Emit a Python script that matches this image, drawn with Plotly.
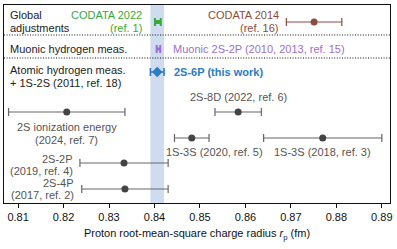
import plotly.graph_objects as go

# ---- data ----
labels = ["CODATA 2022", "CODATA 2014", "Muonic 2S-2P", "2S-6P (this work)",
          "2S ionization energy", "2S-8D", "1S-3S 2020", "1S-3S 2018", "2S-2P", "2S-4P"]
radius = [0.84075, 0.8751, 0.84087, 0.8406, 0.8207, 0.8584, 0.8482, 0.877, 0.8333, 0.8335]
uncert = [0.00064, 0.0061, 0.00039, 0.0015, 0.0128, 0.0051, 0.0038, 0.013, 0.0097, 0.0095]
row = [17, 17, 44, 67, 107, 107, 133, 133, 158, 184]
tick_vals = [0.81, 0.82, 0.83, 0.84, 0.85, 0.86, 0.87, 0.88, 0.89]

FONT = "Liberation Sans, Arial, Helvetica, sans-serif"
GRAY = "#555555"
GREEN = "#3aa83a"
BROWN = "#8c4b40"
PURPLE = "#9c6fd0"
BLUE = "#2a7cc4"

fig = go.Figure()

def add_point(i, color, symbol="circle", size=7, cap=3, thick=1.2, ecolor=None):
    fig.add_trace(go.Scatter(
        x=[radius[i]], y=[row[i]], mode="markers",
        marker=dict(color=color, size=size, symbol=symbol),
        error_x=dict(type="data", array=[uncert[i]], visible=True,
                     color=ecolor or color, thickness=thick, width=cap),
        showlegend=False, hoverinfo="skip"))

add_point(0, GREEN, symbol="square", size=4, cap=4, thick=2)
add_point(1, BROWN, size=7, cap=4)
add_point(2, PURPLE, symbol="square", size=3, cap=4, thick=2)
add_point(3, BLUE, symbol="diamond", size=8, cap=4, thick=1.6)
for i in range(4, 10):
    add_point(i, "#444444", size=7, cap=4, ecolor="#666666")

# band for this work
fig.add_shape(type="rect", xref="x", yref="paper",
              x0=radius[3] - uncert[3], x1=radius[3] + uncert[3], y0=0, y1=1,
              fillcolor="#cfdcf0", line=dict(width=0), layer="below")
# separators
for ysep in (30, 53):
    fig.add_shape(type="line", xref="paper", yref="y", x0=0, x1=1, y0=ysep, y1=ysep,
                  line=dict(color="#111111", width=1.1, dash="1px,1.6px"))

def ann(lines, x, y, color=GRAY, xanchor="center", xshift=0, xref="x", bold=False, gap=13):
    n = len(lines)
    for k, t in enumerate(lines):
        off = (k - (n - 1) / 2) * gap
        fig.add_annotation(text=("<b>%s</b>" % t) if bold else t, x=x, y=y,
                           xref=xref, yref="y", showarrow=False,
                           xanchor=xanchor, yanchor="middle",
                           xshift=xshift, yshift=-off,
                           font=dict(family=FONT, size=11, color=color))

# left category labels
ann(["Global", "adjustments"], 0, 16.5, color="#222222", xanchor="left", xref="paper", xshift=4)
ann(["Muonic hydrogen meas."], 0, 44, color="#222222", xanchor="left", xref="paper", xshift=4)
ann(["Atomic hydrogen meas.", "+ 1S-2S (2011, ref. 18)"], 0, 71, color="#222222",
    xanchor="left", xref="paper", xshift=4)

# data labels
ann(["CODATA 2022", "(ref. 1)"], radius[0] - uncert[0], 16.5, color=GREEN, xanchor="right", xshift=-11)
ann(["CODATA 2014", "(ref. 16)"], radius[1] - uncert[1], 16.5, color=BROWN, xanchor="right", xshift=-5)
ann(["Muonic 2S-2P (2010, 2013, ref. 15)"], radius[2] + uncert[2], 44, color=PURPLE, xanchor="left", xshift=11)
ann(["2S-6P (this work)"], radius[3] + uncert[3], 67, color=BLUE, xanchor="left", xshift=8, bold=True)
ann(["2S ionization energy", "(2024, ref. 7)"], radius[4], 128.5)
ann(["2S-8D (2022, ref. 6)"], radius[5], 92)
ann(["1S-3S (2020, ref. 5)"], radius[6], 147, xshift=23)
ann(["1S-3S (2018, ref. 3)"], radius[7], 147)
ann(["2S-2P", "(2019, ref. 4)"], radius[8] - uncert[8], 159.5, xanchor="right", xshift=-5, gap=12)
ann(["2S-4P", "(2017, ref. 2)"], radius[9] - uncert[9], 184, xanchor="right", xshift=-6, gap=12)

fig.update_xaxes(range=[0.8069, 0.8918], tickvals=tick_vals,
                 tickformat=".2f", ticks="outside", ticklen=4, tickwidth=1.2,
                 tickcolor="#111111", showgrid=False, zeroline=False,
                 showline=True, linecolor="#111111", linewidth=1.2, mirror=True,
                 ticklabeloverflow="allow",
                 tickfont=dict(family=FONT, size=11, color="#111111"),
                 title=dict(text="Proton root-mean-square charge radius <i>r</i><sub>p</sub> (fm)",
                            font=dict(family=FONT, size=11, color="#111111"), standoff=7))
fig.update_yaxes(range=[198, 0], showticklabels=False, ticks="", showgrid=False,
                 zeroline=False, showline=True, linecolor="#111111", linewidth=1.2, mirror=True)

fig.update_layout(width=397, height=249, margin=dict(l=4, r=7, t=5, b=46),
                  plot_bgcolor="white", paper_bgcolor="white", showlegend=False)

fig.write_html("out.html", config={"displayModeBar": False},
               post_script="document.body.style.margin='0';document.body.style.padding='0';")
